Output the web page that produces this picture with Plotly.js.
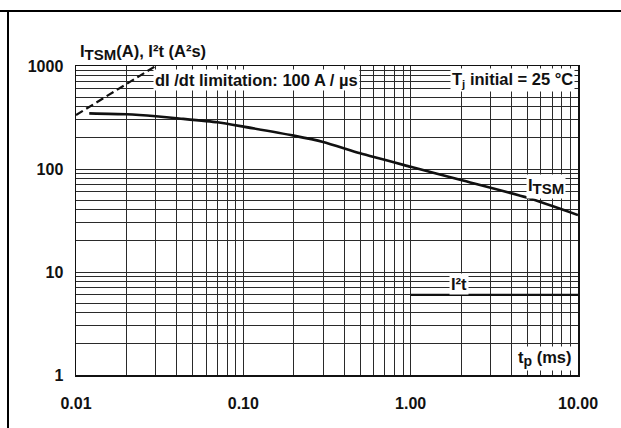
<!DOCTYPE html>
<html>
<head>
<meta charset="utf-8">
<script src="https://cdn.plot.ly/plotly-3.0.1.min.js"></script>
<style>
  html, body { margin: 0; padding: 0; background: #fff; }
  #wrap { position: relative; width: 621px; height: 428px; overflow: hidden; }
  #chart { width: 621px; height: 428px; }
  .frame { position: absolute; background: #000; pointer-events: none; }
</style>
</head>
<body>
<div id="wrap">
  <div id="chart"></div>
  <div class="frame" style="left:0; top:9.5px; width:621px; height:2px;"></div>
  <div class="frame" style="left:7px; top:10px; width:2px; height:418px;"></div>
</div>
<script>
// ITSM curve (A) versus pulse width tp (ms)
const tpItsm = [0.012, 0.02, 0.03, 0.04, 0.07, 0.1, 0.2, 0.3, 0.5, 1.0, 2.0, 5.0, 10.0];
const itsm   = [347,   340,  325,  311,  284,  258, 211, 183, 142, 105, 78,  52.5, 35.7];

// I2t (A2s)
const tpI2t = [1.0, 10.0];
const i2t   = [6.0, 6.0];

// dI/dt limitation line
const tpDidt = [0.01, 0.031];
const didt   = [334, 1035];

// Axis ticks
const xDecades = [0.01, 0.1, 1, 10];
const xDecadeLabels = ["0.01", "0.10", "1.00", "10.00"];
const yDecades = [1, 10, 100, 1000];
const yDecadeLabels = ["1", "10", "100", "1000"];
const minorDigits = [2, 3, 4, 5, 6, 7, 8, 9];

function minorVals(decades) {
  const vals = [];
  decades.slice(0, -1).forEach(d => minorDigits.forEach(k => vals.push(d * k)));
  return vals;
}

const FONT = "Liberation Sans, Arial, Helvetica, sans-serif";
const gridColor = "#2a2a2a";
const tickFont = { family: FONT, size: 16, weight: "bold", color: "#111" };

const traces = [
  { x: tpItsm, y: itsm, mode: "lines", line: { color: "#111", width: 2.6, shape: "spline", smoothing: 0.6 }, hoverinfo: "skip" },
  { x: tpI2t, y: i2t, mode: "lines", line: { color: "#111", width: 2.4 }, hoverinfo: "skip" },
  { x: tpDidt, y: didt, mode: "lines", line: { color: "#111", width: 2.2, dash: "8px,4px" }, hoverinfo: "skip", cliponaxis: false }
];

function lbl(text, x, y, extra) {
  return Object.assign({
    text: text, xref: "paper", yref: "paper", x: x, y: y,
    xanchor: "center", yanchor: "middle", showarrow: false,
    bgcolor: "#fff", borderpad: 1,
    font: { family: FONT, size: 16.5, weight: "bold", color: "#111" }
  }, extra || {});
}

function axis(decades, labels, range, standoff) {
  return {
    type: "log", range: range,
    tickmode: "array", tickvals: decades, ticktext: labels,
    showgrid: true, gridcolor: gridColor, gridwidth: 1,
    minor: { tickmode: "array", tickvals: minorVals(decades), showgrid: true, gridcolor: gridColor, gridwidth: 1, ticks: "" },
    showline: true, linecolor: "#111", linewidth: 1.5, mirror: true,
    ticks: "", ticklabelstandoff: standoff, zeroline: false,
    tickfont: tickFont
  };
}

const layout = {
  width: 621, height: 428,
  margin: { l: 76, r: 43, t: 66, b: 53 },
  paper_bgcolor: "#fff", plot_bgcolor: "#fff",
  showlegend: false,
  font: { family: FONT, size: 16, weight: "bold", color: "#111" },
  xaxis: axis(xDecades, xDecadeLabels, [-2, 1], 13),
  yaxis: axis(yDecades, yDecadeLabels, [0, 3], 8),
  annotations: [
    lbl("I<sub><span style='font-size:15px'>TSM</span></sub>(A), I²t (A²s)", 0.004, 1, { xanchor: "left", yanchor: "bottom", bgcolor: "rgba(0,0,0,0)", yshift: 1 }),
    lbl("dI /dt limitation: 100 A / µs", 0.3586, 0.9538),
    lbl("T<sub>j</sub> initial = 25 °C", 0.8705, 0.9538),
    lbl("I<sub><span style='font-size:15px'>TSM</span></sub>", 0.936, 0.611),
    lbl("I²t", 0.763, 0.294),
    lbl("t<sub><span style='font-size:14px'>p</span></sub> (ms)", 0.934, 0.052)
  ]
};

Plotly.newPlot("chart", traces, layout, { staticPlot: true, displayModeBar: false });
</script>
</body>
</html>
